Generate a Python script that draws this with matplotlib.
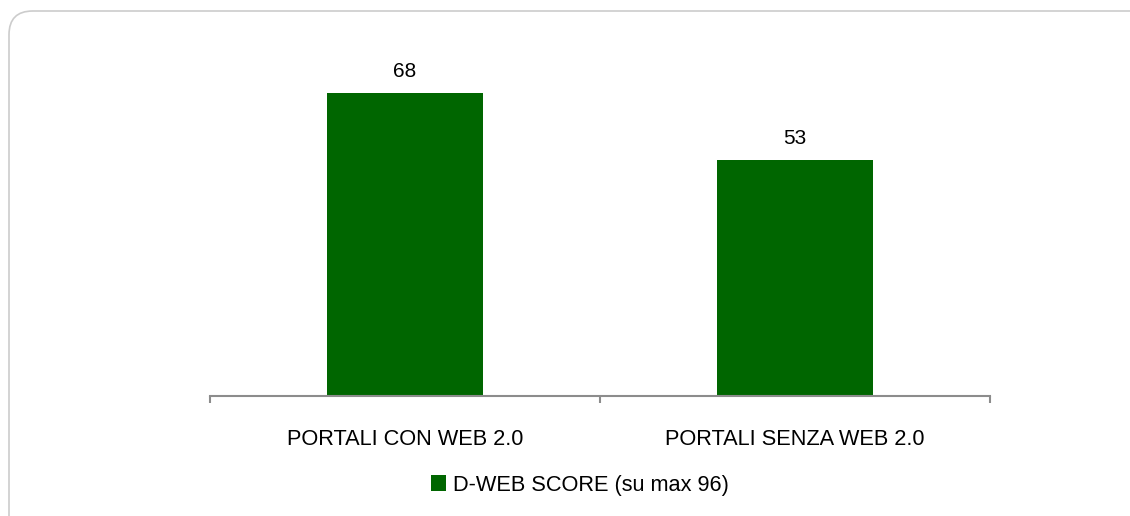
import matplotlib.pyplot as plt
from matplotlib.patches import FancyBboxPatch
from matplotlib import font_manager

# ── DATA ──────────────────────────────────────────────────────────────────────
categories = ["PORTALI CON WEB 2.0", "PORTALI SENZA WEB 2.0"]
scores = [68, 53]
series_label = "D-WEB SCORE (su max 96)"
# ─────────────────────────────────────────────────────────────────────────────

names = {f.name for f in font_manager.fontManager.ttflist}
font = "Liberation Sans Narrow" if "Liberation Sans Narrow" in names else "Liberation Sans"
plt.rcParams["font.family"] = [font, "DejaVu Sans"]

GREEN = "#006600"
AXIS = "#8c8c8c"
W, H = 1130, 516

fig = plt.figure(figsize=(W / 100, H / 100), dpi=100)

# rounded chart-area border (runs off the right/bottom edge like the original)
border = FancyBboxPatch((9 / W, -40 / H), (W + 40) / W, (H + 40 - 11) / H,
                        boxstyle="round,pad=0,rounding_size=0.021",
                        transform=fig.transFigure, fill=False,
                        edgecolor="#cccccc", linewidth=1.2, mutation_aspect=W / H)
fig.patches.append(border)

ax = fig.add_axes([210 / W, (H - 396) / H, 780 / W, 356 / H])
x = range(len(categories))
bars = ax.bar(x, scores, width=0.4, color=GREEN, label=series_label, zorder=2)

for b, v in zip(bars, scores):
    ax.annotate(f"{v}", (b.get_x() + b.get_width() / 2, v), xytext=(0, 9),
                textcoords="offset points", ha="center", va="bottom",
                fontsize=15, color="black")

ax.set_xlim(-0.5, 1.5)
ax.set_ylim(0, 80)
ax.set_yticks([])
for s in ["top", "right", "left"]:
    ax.spines[s].set_visible(False)
ax.spines["bottom"].set_color(AXIS)
ax.spines["bottom"].set_linewidth(1.5)

ax.set_xticks([-0.5, 0.5, 1.5], minor=False)
ax.set_xticklabels([])
ax.tick_params(axis="x", which="major", length=5, width=1.5, color=AXIS, direction="out")
ax.set_xticks(list(x), minor=True)
ax.set_xticklabels(categories, minor=True, fontsize=15.7)
ax.tick_params(axis="x", which="minor", length=0, pad=24)

leg = fig.legend(handles=[bars], labels=[series_label], loc="center",
                 bbox_to_anchor=(580 / W, (H - 485) / H), frameon=False,
                 fontsize=15.7, handlelength=0.7, handleheight=0.7,
                 handletextpad=0.3)

fig.savefig("out.png", dpi=100)
